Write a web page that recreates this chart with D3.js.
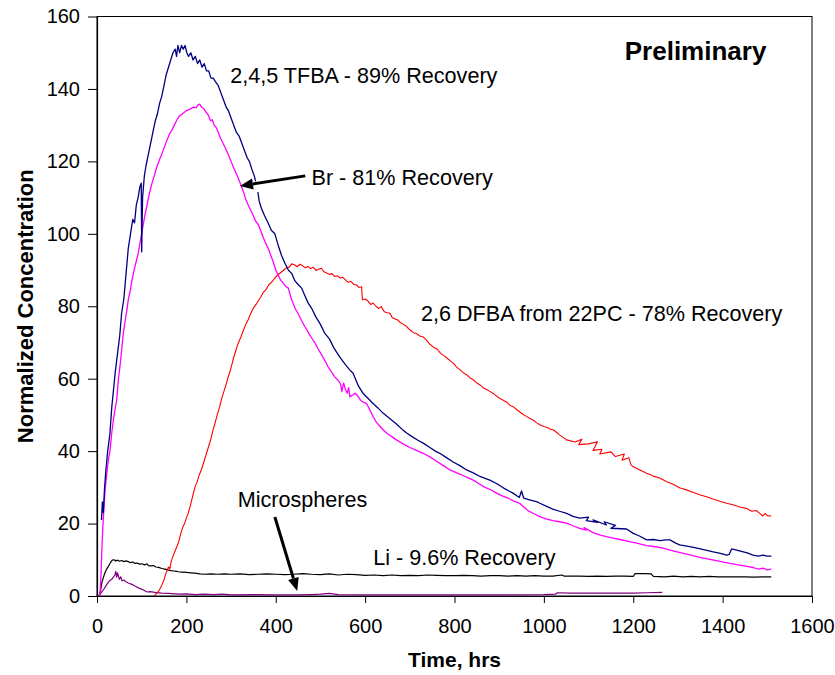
<!DOCTYPE html>
<html>
<head>
<meta charset="utf-8">
<script src="https://cdn.jsdelivr.net/npm/d3@7"></script>
<style>
  html, body { margin: 0; padding: 0; background: #fff; }
  svg { display: block; font-family: "Liberation Sans", Arial, sans-serif; }
</style>
</head>
<body>
<svg id="chart" width="835" height="675"></svg>
<script>
// ── Data: [time (hrs), normalized concentration] ──
const tfba = [
  [10,21],[12,26],[14,23],[17,30],[20,35],[24,40],[29,45],[33,52],[37,57],[41,62],[46,67],[51,72],
  [55,78],[60,82],[65,89],[70,96],[75,100],[80,104],[84,103],[88,108],[92,110],[96,113],[99,114],
  [100,95],[102,110],[106,116],[110,119],[115,122],[120,125],[125,128],[130,131],[135,133],[140,136],
  [145,138],[150,141],[155,144],[160,146],[165,148],[170,150],[175,151],[178,149],[181,152],[185,150],
  [189,152],[193,151],[197,152],[201,150],[205,149],[210,150],[215,148],[220,149],[225,147],[230,148],
  [235,146],[240,147],[245,145],[250,145],[255,143],[260,143],[265,142],[271,141],[277,139],[283,137],
  [289,135],[294,134],[300,132],[306,130],[312,128],[318,127],[324,125],[330,123],[336,121],[341,120],
  [346,118],[352,116],[355,114.5],[356,null],[360,111.5],[363,109],[368,107],[375,105],[383,103],
  [390,101],[398,100],[405,97],[413,94],[420,92],[428,90],[436,89],[443,87],[450,86],[458,85],[465,83],
  [472,81],[480,79.5],[490,77],[500,75],[510,72.5],[520,71],[530,68.5],[543,66],[555,64],[565,62.5],
  [573,61.5],[585,58],[595,56],[603,55],[615,53.5],[628,52],[640,50.5],[655,49],[670,47.5],[683,46],
  [693,45],[705,44],[718,43],[730,42.2],[745,41],[757,40],[767,39.4],[782,38.2],[797,37],[812,36],
  [827,34.8],[842,34],[857,33],[870,32.4],[879,32],[895,31],[910,29.8],[922,29],[931,28.4],[945,27.2],
  [950,29],[955,27],[970,26.5],[985,26],[991,25.6],[1005,24.8],[1020,24],[1035,23.4],[1051,22.8],
  [1065,22],[1080,21.5],[1100,21.8],[1095,20.8],[1120,20.3],[1110,21],[1140,19.6],[1135,20.5],
  [1160,19.5],[1150,18.7],[1185,18.5],[1200,17.3],[1215,16.5],[1230,15.5],[1245,15.6],[1260,15.3],
  [1272,15.5],[1282,15.5],[1295,14.6],[1304,14.1],[1320,13.8],[1335,13.4],[1350,13],[1365,12.6],
  [1379,12.2],[1395,11.8],[1409,11.3],[1415,11.5],[1420,13],[1425,12.9],[1440,12.4],[1455,11.9],
  [1468,11.3],[1480,11],[1490,11.3],[1500,11],[1509,11]
];

const br = [
  [5,0],[7,1],[9,6],[11,13],[13,19],[15,23],[18,29],[22,34],[26,38],[29,40],[33,45],[37,49],[41,52],
  [44,54],[48,60],[52,64],[56,69],[59,72.6],[63,76],[67,79],[70,81.8],[74,84],[78,87],[83,90],[88,92.5],
  [92,94.5],[97,98],[102,101.5],[107,105],[112,108],[117,111],[122,113.5],[128,116],[134,118.5],
  [140,120.5],[145,122],[151,124],[157,126],[162,127.5],[167,128.5],[173,130],[179,131.5],[184,132.5],
  [190,133],[195,133.5],[200,134],[206,134.3],[212,134.7],[218,135],[222,134.8],[226,135.6],[230,135.8],
  [234,135],[239,134.5],[244,133.6],[249,132.8],[254,131.2],[258,131.5],[262,130],[266,129.5],
  [271,128.2],[276,126.5],[282,125],[288,123.5],[294,121.8],[300,120],[306,118.2],[312,116.5],
  [316,115.4],[322,113.5],[328,111.5],[333,109.5],[338,108],[344,106.5],[350,105],[355,103.5],
  [361,102.5],[366,101],[372,99],[377,97.5],[383,96],[389,94],[395,92],[400,90],[405,88.7],[411,87.2],
  [417,86.3],[422,85.5],[428,85],[435,82],[443,79.5],[450,78],[458,76],[465,74.4],[472,73],[480,71.3],
  [488,69.8],[495,68.2],[502,66.7],[510,65],[517,63.3],[525,61.8],[532,60.5],[540,59.5],[545,58.5],
  [548,56.5],[552,58.8],[556,57],[560,56],[563,57.5],[566,55],[572,55.5],[578,56],[585,55],[590,54],
  [596,53.5],[603,53.2],[610,51.5],[618,49.5],[625,48],[632,47],[640,45.9],[650,44.8],[660,44],
  [670,43.1],[685,42],[700,41],[715,40.2],[730,39.4],[745,38.4],[760,37.2],[775,36],[790,34.8],
  [805,34],[820,33.2],[833,32.5],[842,32],[855,31],[868,30],[880,29.4],[894,28.4],[908,27.6],[920,27],
  [933,26.2],[946,25.6],[955,24.6],[965,23.5],[978,22.7],[991,21.9],[1005,21.3],[1020,20.8],
  [1035,20.5],[1051,20.1],[1065,19.4],[1080,18.7],[1095,18.2],[1090,18.9],[1110,17.5],[1125,16.9],
  [1140,16.4],[1155,16],[1170,15.6],[1192,15],[1210,14.5],[1230,13.9],[1250,13.6],[1267,13.2],
  [1285,12.6],[1305,12],[1325,11.4],[1342,10.9],[1360,10.4],[1380,9.9],[1400,9.4],[1416,9],[1435,8.6],
  [1455,8.2],[1470,7.8],[1480,7.4],[1490,7.7],[1500,7.2],[1509,7.4]
];

const dfba = [
  [128,0],[132,0.6],[136,1],[140,1.8],[145,3],[150,4.5],[155,6.5],[160,8],[163,7.5],[166,9.5],[170,11],
  [175,12.5],[180,14],[184,15.5],[188,17.5],[192,19],[196,20],[200,21.5],[204,22.8],[209,25],[214,27.5],
  [219,30],[224,31.5],[229,33.5],[234,35],[239,37],[244,39],[249,41],[254,43],[259,45.5],[264,47.7],
  [269,50],[274,52],[279,54.5],[284,56.5],[289,58.5],[294,60.6],[300,63],[305,65.5],[310,67.5],
  [316,69.8],[322,71.5],[328,73.5],[333,75],[338,76.2],[344,78],[350,79.5],[356,80.5],[361,81.5],
  [366,82.5],[372,83.8],[378,84.6],[385,86],[392,86.8],[398,87.8],[405,88.7],[412,89.4],[418,90],
  [424,90.6],[430,90.8],[436,91.7],[443,91.4],[448,90.9],[454,91.6],[460,91.2],[466,90.6],[472,91],
  [478,90.4],[484,90.8],[490,89.9],[496,90.2],[502,90.5],[508,89.5],[514,89.2],[520,88.8],[526,89],
  [532,88.2],[538,88.4],[544,87.8],[550,88],[556,87.3],[562,86.6],[568,86.9],[575,86],[581,85.9],
  [586,85.2],[592,85.4],[594,81.8],[600,82],[606,81.5],[612,80.5],[618,80.9],[624,80],[630,79.4],
  [636,79.9],[643,78.5],[649,78.2],[655,78.1],[661,76.8],[667,76.5],[673,76.2],[679,75.5],[686,75],
  [693,74.4],[700,73.5],[708,72.7],[715,72.5],[722,71.8],[729,71.6],[737,70.7],[745,69.5],[753,68.7],
  [761,68.2],[769,67],[777,66.3],[785,65.5],[792,64.8],[797,64.3],[805,63.2],[812,62.5],[820,61.6],
  [828,61],[835,60.2],[842,59.7],[850,58.8],[858,58.2],[865,57.4],[872,57],[879,56.5],[886,56],
  [894,55.2],[902,54.5],[910,54],[917,53.5],[924,52.6],[931,52.3],[939,51.5],[946,50.8],[953,50.2],
  [961,49.6],[969,49],[976,48.6],[984,47.8],[992,47.2],[1000,46.8],[1008,46.5],[1015,46],[1021,45.9],
  [1028,45.2],[1035,44.5],[1043,43.8],[1051,43.1],[1070,42.5],[1085,43.3],[1078,41.8],[1100,42],
  [1120,42.6],[1110,40.2],[1130,40.5],[1125,39.2],[1150,39.8],[1160,38.5],[1180,39.2],[1175,37.5],
  [1190,38.2],[1195,36.2],[1200,35.7],[1215,34.8],[1230,33.9],[1245,33.1],[1260,32.5],[1274,31.6],
  [1290,30.8],[1305,29.8],[1319,29.3],[1335,28.6],[1350,27.9],[1364,27.4],[1380,26.7],[1395,26.1],
  [1409,25.6],[1425,25.1],[1440,24.5],[1453,24.2],[1465,23.4],[1475,23.6],[1483,22.8],[1490,22.1],
  [1495,22.8],[1500,22.2],[1509,22.1]
];

const li = [
  [5,0],[8,1.5],[10.5,3.5],[14,5],[18,6.5],[22,7.5],[25,8.1],[30,9.2],[34,9.9],[38,10],[42,9.7],
  [46,9.9],[50,9.6],[55,9.8],[60,9.5],[65,9.7],[70,9.5],[75,9.2],[80,9.4],[85,9],[90,9.1],[95,8.8],
  [100,8.9],[107,8.6],[112,8.9],[115,8.4],[120,8.3],[126,8.4],[132,8],[138,7.9],[145,7.6],[152,7.4],
  [158,7.2],[165,7],[172,6.9],[178,6.8],[182,6.7],[190,6.6],[200,6.5],[210,6.4],[219,6.3],[230,6.1],
  [240,6],[255,6.1],[270,6],[285,6.1],[300,6],[320,6.1],[340,5.9],[360,6],[380,6.1],[400,6],[420,5.9],
  [440,6],[460,6.2],[480,6],[500,5.9],[520,6.1],[540,5.8],[560,6],[580,5.9],[600,5.7],[620,5.8],
  [640,5.6],[660,5.8],[680,5.6],[700,5.7],[720,5.6],[740,5.8],[760,5.7],[780,5.6],[800,5.6],[820,5.7],
  [840,5.6],[860,5.5],[880,5.6],[900,5.6],[920,5.5],[940,5.6],[960,5.5],[980,5.6],[1000,5.5],
  [1020,5.5],[1040,5.8],[1045,5.5],[1060,5.5],[1080,5.5],[1100,5.4],[1120,5.5],[1140,5.4],[1160,5.5],
  [1180,5.5],[1200,5.4],[1204,6.2],[1225,6.2],[1240,6.1],[1245,5.4],[1270,5.3],[1290,5.5],[1310,5.3],
  [1330,5.4],[1350,5.3],[1370,5.4],[1390,5.3],[1410,5.3],[1430,5.3],[1450,5.3],[1470,5.2],[1490,5.3],
  [1509,5.3]
];

const microspheres = [
  [3,0],[10,1],[16,2],[22,3.2],[28,4.2],[33,4.6],[37,5.3],[40,5.8],[42,6.8],[44,5.2],[46,6.4],[48,5.5],
  [50,4.6],[53,5.3],[56,4.2],[60,4.4],[64,4],[70,3.6],[78,3.2],[86,2.7],[95,2.1],[105,1.6],[112,1.1],
  [119,1.2],[130,1],[145,0.8],[160,0.7],[175,0.6],[186,0.5],[200,0.6],[220,0.4],[240,0.5],[260,0.4],
  [280,0.5],[300,0.3],[350,0.4],[400,0.3],[450,0.3],[480,0.4],[500,0.5],[520,0.7],[540,0.4],[600,0.3],
  [700,0.3],[800,0.3],[900,0.3],[1000,0.4],[1026,0.5],[1030,0.9],[1060,0.8],[1100,0.8],[1150,0.8],
  [1200,0.8],[1230,0.9],[1265,1.0]
];

const xTicks = [0, 200, 400, 600, 800, 1000, 1200, 1400, 1600];
const yTicks = [0, 20, 40, 60, 80, 100, 120, 140, 160];

const seriesList = [
  { name: "Microspheres", data: microspheres, color: "#800080", width: 1.2 },
  { name: "Li",           data: li,           color: "#000000", width: 1.2 },
  { name: "2,6 DFBA",     data: dfba,         color: "#ff0000", width: 1.1 },
  { name: "Br",           data: br,           color: "#ff00ff", width: 1.3 },
  { name: "2,4,5 TFBA",   data: tfba,         color: "#000080", width: 1.3 }
];

// ── Layout ──
const plotL = 97, plotR = 812, plotT = 16.5, plotB = 596;
const svg = d3.select("#chart");
const x = d3.scaleLinear().domain([0, 1600]).range([plotL, plotR]);
const y = d3.scaleLinear().domain([0, 160]).range([plotB, plotT]);

// frame
svg.append("rect")
  .attr("x", plotL).attr("y", plotT)
  .attr("width", plotR - plotL).attr("height", plotB - plotT)
  .attr("fill", "none").attr("stroke", "#000").attr("stroke-width", 1);

// axes
const xAxis = svg.append("g")
  .attr("transform", `translate(0,${plotB})`)
  .call(d3.axisBottom(x).tickValues(xTicks).tickFormat(d3.format("d"))
    .tickSize(7).tickSizeOuter(0).tickPadding(16));
const yAxis = svg.append("g")
  .attr("transform", `translate(${plotL},0)`)
  .call(d3.axisLeft(y).tickValues(yTicks).tickFormat(d3.format("d"))
    .tickSize(9).tickSizeOuter(0).tickPadding(8));

[xAxis, yAxis].forEach(g => {
  g.select(".domain").attr("stroke", "#000").attr("stroke-width", 1.2);
  g.selectAll(".tick line").attr("stroke", "#000").attr("stroke-width", 1);
  g.selectAll(".tick text")
    .attr("fill", "#000")
    .style("font-family", '"Liberation Sans", Arial, sans-serif')
    .style("font-size", "20px");
});

// lines
const line = d3.line()
  .defined(d => d[1] != null)
  .x(d => x(d[0]))
  .y(d => y(d[1]));

svg.append("g").selectAll("path")
  .data(seriesList)
  .join("path")
  .attr("d", d => line(d.data))
  .attr("fill", "none")
  .attr("stroke", d => d.color)
  .attr("stroke-width", d => d.width)
  .attr("stroke-linejoin", "round");

// axis titles
svg.append("text")
  .attr("x", (plotL + plotR) / 2).attr("y", 667)
  .attr("text-anchor", "middle")
  .style("font-weight", "bold").style("font-size", "21px")
  .text("Time, hrs");

svg.append("text")
  .attr("transform", `translate(33,${(plotT + plotB) / 2}) rotate(-90)`)
  .attr("text-anchor", "middle")
  .style("font-weight", "bold").style("font-size", "22px")
  .text("Normalized Concentration");

// ── Annotations (positioned in data units) ──
const labels = [
  { text: "Preliminary",                       t: 1181, c: 148.0, size: 26, bold: true },
  { text: "2,4,5 TFBA - 89% Recovery",         t: 298,  c: 141.6, size: 21.6 },
  { text: "Br - 81% Recovery",                 t: 480,  c: 113.5, size: 21.6 },
  { text: "2,6 DFBA from 22PC - 78% Recovery", t: 725,  c: 75.9,  size: 21.6 },
  { text: "Microspheres",                      t: 315,  c: 24.5,  size: 21.6 },
  { text: "Li - 9.6% Recovery",                t: 618,  c: 8.5,   size: 21.6 }
];

svg.append("g").selectAll("text")
  .data(labels)
  .join("text")
  .attr("x", d => x(d.t))
  .attr("y", d => y(d.c))
  .style("font-size", d => d.size + "px")
  .style("font-weight", d => d.bold ? "bold" : "normal")
  .text(d => d.text);

const arrows = [
  { from: [466, 116.0], to: [320, 113.2] },   // Br
  { from: [398, 21.8],  to: [448, 1.4] }      // Microspheres
];

arrows.forEach(a => {
  const x1 = x(a.from[0]), y1 = y(a.from[1]);
  const x2 = x(a.to[0]),   y2 = y(a.to[1]);
  const ang = Math.atan2(y2 - y1, x2 - x1);
  const headLen = 13, headW = 5.5;
  const bx = x2 - headLen * Math.cos(ang), by = y2 - headLen * Math.sin(ang);
  svg.append("line")
    .attr("x1", x1).attr("y1", y1).attr("x2", bx).attr("y2", by)
    .attr("stroke", "#000").attr("stroke-width", 3);
  const px = -Math.sin(ang) * headW, py = Math.cos(ang) * headW;
  svg.append("path")
    .attr("d", `M${x2},${y2} L${bx + px},${by + py} L${bx - px},${by - py} Z`)
    .attr("fill", "#000");
});
</script>
</body>
</html>
